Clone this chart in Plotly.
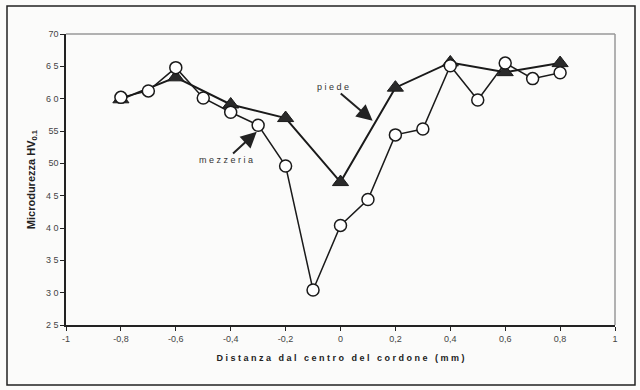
import plotly.graph_objects as go

# Data
x_mezzeria = [-0.8, -0.7, -0.6, -0.5, -0.4, -0.3, -0.2, -0.1, 0.0, 0.1, 0.2, 0.3, 0.4, 0.5, 0.6, 0.7, 0.8]
y_mezzeria = [60.2, 61.2, 64.8, 60.1, 57.9, 55.9, 49.6, 30.4, 40.4, 44.4, 54.4, 55.3, 65.1, 59.8, 65.5, 63.1, 64.0]
x_piede = [-0.8, -0.6, -0.4, -0.2, 0.0, 0.2, 0.4, 0.6, 0.8]
y_piede = [59.9, 63.3, 59.1, 57.0, 47.1, 61.7, 65.6, 64.1, 65.5]
x_tickvals = [-1, -0.8, -0.6, -0.4, -0.2, 0, 0.2, 0.4, 0.6, 0.8, 1]
x_ticktext = ["-1", "-0,8", "-0,6", "-0,4", "-0,2", "0", "0,2", "0,4", "0,6", "0,8", "1"]
y_tickvals = [25, 30, 35, 40, 45, 50, 55, 60, 65, 70]
y_ticktext = ["2 5", "3 0", "3 5", "4 0", "4 5", "50", "55", "6 0", "6 5", "70"]

font_family = "Liberation Sans, Arial, sans-serif"

fig = go.Figure()
fig.add_trace(go.Scatter(
    x=x_piede, y=y_piede, mode="lines+markers", name="piede",
    line=dict(color="#1a1a1a", width=2),
    marker=dict(symbol="triangle-up", size=14, color="#2a2a2a",
                line=dict(color="#1a1a1a", width=1)),
))
fig.add_trace(go.Scatter(
    x=x_mezzeria, y=y_mezzeria, mode="lines+markers", name="mezzeria",
    line=dict(color="#1a1a1a", width=1.5),
    marker=dict(symbol="circle", size=12, color="white",
                line=dict(color="#1a1a1a", width=1.5)),
))

L, R, T, B = 66, 25, 34, 65
W, H = 640, 390
pw, ph = W - L - R, H - T - B

def px2paper(px, py):
    return (px - L) / pw, (H - B - py) / ph

x0, y0 = px2paper(7, 385)
x1, y1 = px2paper(635, 6)

fig.update_layout(
    width=W, height=H,
    margin=dict(l=L, r=R, t=T, b=B),
    paper_bgcolor="#fbfbfa",
    plot_bgcolor="#fbfbfa",
    showlegend=False,
    font=dict(family=font_family, size=9, color="#333"),
    xaxis=dict(
        range=[-1, 1], tickvals=x_tickvals, ticktext=x_ticktext,
        showgrid=False, zeroline=False, showline=True, linecolor="#222", linewidth=1.5,
        ticks="outside", ticklen=4, tickcolor="#222", mirror=False,
        tickfont=dict(size=9, color="#444"),
        title=dict(text="<b>D i s t a n z a   d a l   c e n t r o   d e l   c o r d o n e   ( m m )</b>",
                   font=dict(size=9, color="#222"), standoff=12),
    ),
    yaxis=dict(
        range=[25, 70], tickvals=y_tickvals, ticktext=y_ticktext,
        showgrid=False, zeroline=False, showline=True, linecolor="#222", linewidth=1.5,
        ticks="outside", ticklen=4, tickcolor="#222",
        tickfont=dict(size=9, color="#444"),
        title=dict(text="<b>Microdurezza HV<sub>0.1</sub></b>",
                   font=dict(size=11, color="#222"), standoff=8),
    ),
    shapes=[
        dict(type="line", xref="paper", yref="paper", x0=0, y0=1, x1=1, y1=1,
             line=dict(color="#999", width=1.5)),
        dict(type="line", xref="paper", yref="paper", x0=1, y0=0, x1=1, y1=1,
             line=dict(color="#999", width=1.5)),
        dict(type="rect", xref="paper", yref="paper", x0=x0, y0=y0, x1=x1, y1=y1,
             line=dict(color="#222", width=1.5), layer="below"),
    ],
    annotations=[
        dict(x=0.117, y=56.6, ax=-0.027, ay=61.8, xref="x", yref="y", axref="x", ayref="y",
             text="p i e d e", showarrow=True, arrowhead=2, arrowsize=1.6, arrowwidth=2,
             arrowcolor="#222", font=dict(size=9, color="#333")),
        dict(x=-0.305, y=54.9, ax=-0.417, ay=50.5, xref="x", yref="y", axref="x", ayref="y",
             text="m e z z e r i a", showarrow=True, arrowhead=2, arrowsize=1.6, arrowwidth=2,
             arrowcolor="#222", font=dict(size=9, color="#333")),
    ],
)

fig.write_html("out.html", config={"displayModeBar": False},
               post_script="document.body.style.margin='0';document.body.style.overflow='hidden';")
